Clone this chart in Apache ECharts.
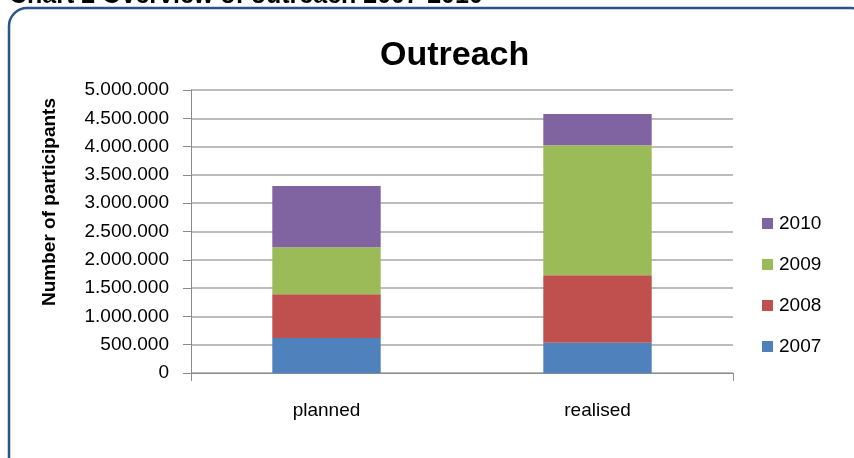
<!DOCTYPE html>
<html>
<head>
<meta charset="utf-8">
<title>Outreach</title>
<script src="https://cdn.jsdelivr.net/npm/echarts@6/dist/echarts.min.js"></script>
<style>
  html, body { margin: 0; padding: 0; background: #ffffff; }
  #chart { width: 854px; height: 458px; }
</style>
</head>
<body>
<div id="chart"></div>
<script>
// Outreach participants per year, stacked for planned vs realised
const categories = ['planned', 'realised'];
const years = ['2007', '2008', '2009', '2010'];
const values2007 = [620000, 535000];
const values2008 = [770000, 1190000];
const values2009 = [830000, 2300000];
const values2010 = [1083000, 553000];
const yTicks = { min: 0, max: 5000000, step: 500000 };

const seriesValues = [values2007, values2008, values2009, values2010];
const colors = ['#4f81bd', '#c0504d', '#9bbb59', '#8064a2'];
const font = '"Liberation Sans", Arial, sans-serif';

// thousands separated by dots: 5.000.000
function dotted(v) {
  return String(v).replace(/\B(?=(\d{3})+(?!\d))/g, '.');
}

const chart = echarts.init(document.getElementById('chart'), null, { renderer: 'canvas' });

chart.setOption({
  animation: false,
  backgroundColor: '#ffffff',
  title: {
    text: 'Outreach',
    left: 375,
    top: 34,
    textStyle: { fontFamily: font, fontSize: 34, fontWeight: 'bold', color: '#000000' }
  },
  legend: {
    data: years.slice().reverse(),
    orient: 'vertical',
    left: 757,
    top: 209,
    itemWidth: 11,
    itemHeight: 11,
    itemGap: 22,
    icon: 'rect',
    textStyle: { fontFamily: font, fontSize: 19, color: '#000000', padding: [0, 0, 0, 1] }
  },
  grid: { left: 191, right: 121, top: 90, bottom: 85 },
  xAxis: {
    type: 'category',
    data: categories,
    boundaryGap: true,
    axisLine: { lineStyle: { color: '#8c8c8c', width: 1 } },
    axisTick: { show: true, length: 8, lineStyle: { color: '#8c8c8c' }, interval: function (i) { return i !== 1; } },
    axisLabel: { fontFamily: font, fontSize: 19, color: '#000000', margin: 28 }
  },
  yAxis: {
    type: 'value',
    min: yTicks.min,
    max: yTicks.max,
    interval: yTicks.step,
    axisLine: { show: true, lineStyle: { color: '#8c8c8c', width: 1 } },
    axisTick: { show: true, length: 8, lineStyle: { color: '#8c8c8c' } },
    axisLabel: { fontFamily: font, fontSize: 19, color: '#000000', margin: 22, formatter: dotted },
    splitLine: { lineStyle: { color: '#a6a6a6', width: 1.5 } }
  },
  series: years.map((y, i) => ({
    name: y,
    type: 'bar',
    stack: 'total',
    barWidth: '40%',
    data: seriesValues[i],
    itemStyle: { color: colors[i] }
  })),
  graphic: [
    {
      type: 'rect',
      shape: { x: 9, y: 8, width: 860, height: 480, r: 18 },
      style: { fill: null, stroke: '#2b5589', lineWidth: 2.5 },
      silent: true,
      z: 10
    },
    {
      // value axis title, rotated
      type: 'text',
      x: 50,
      y: 202,
      rotation: Math.PI / 2,
      style: {
        text: 'Number of participants',
        font: 'bold 19px ' + font,
        fill: '#000000',
        align: 'center',
        verticalAlign: 'middle'
      },
      silent: true
    },
    {
      // caption above the frame, mostly outside the page
      type: 'text',
      x: 9,
      y: -16,
      style: {
        text: 'Chart 2 Overview of outreach 2007-2010',
        font: 'bold 25px ' + font,
        fill: '#000000',
        verticalAlign: 'top'
      },
      silent: true
    }
  ]
});
</script>
</body>
</html>
